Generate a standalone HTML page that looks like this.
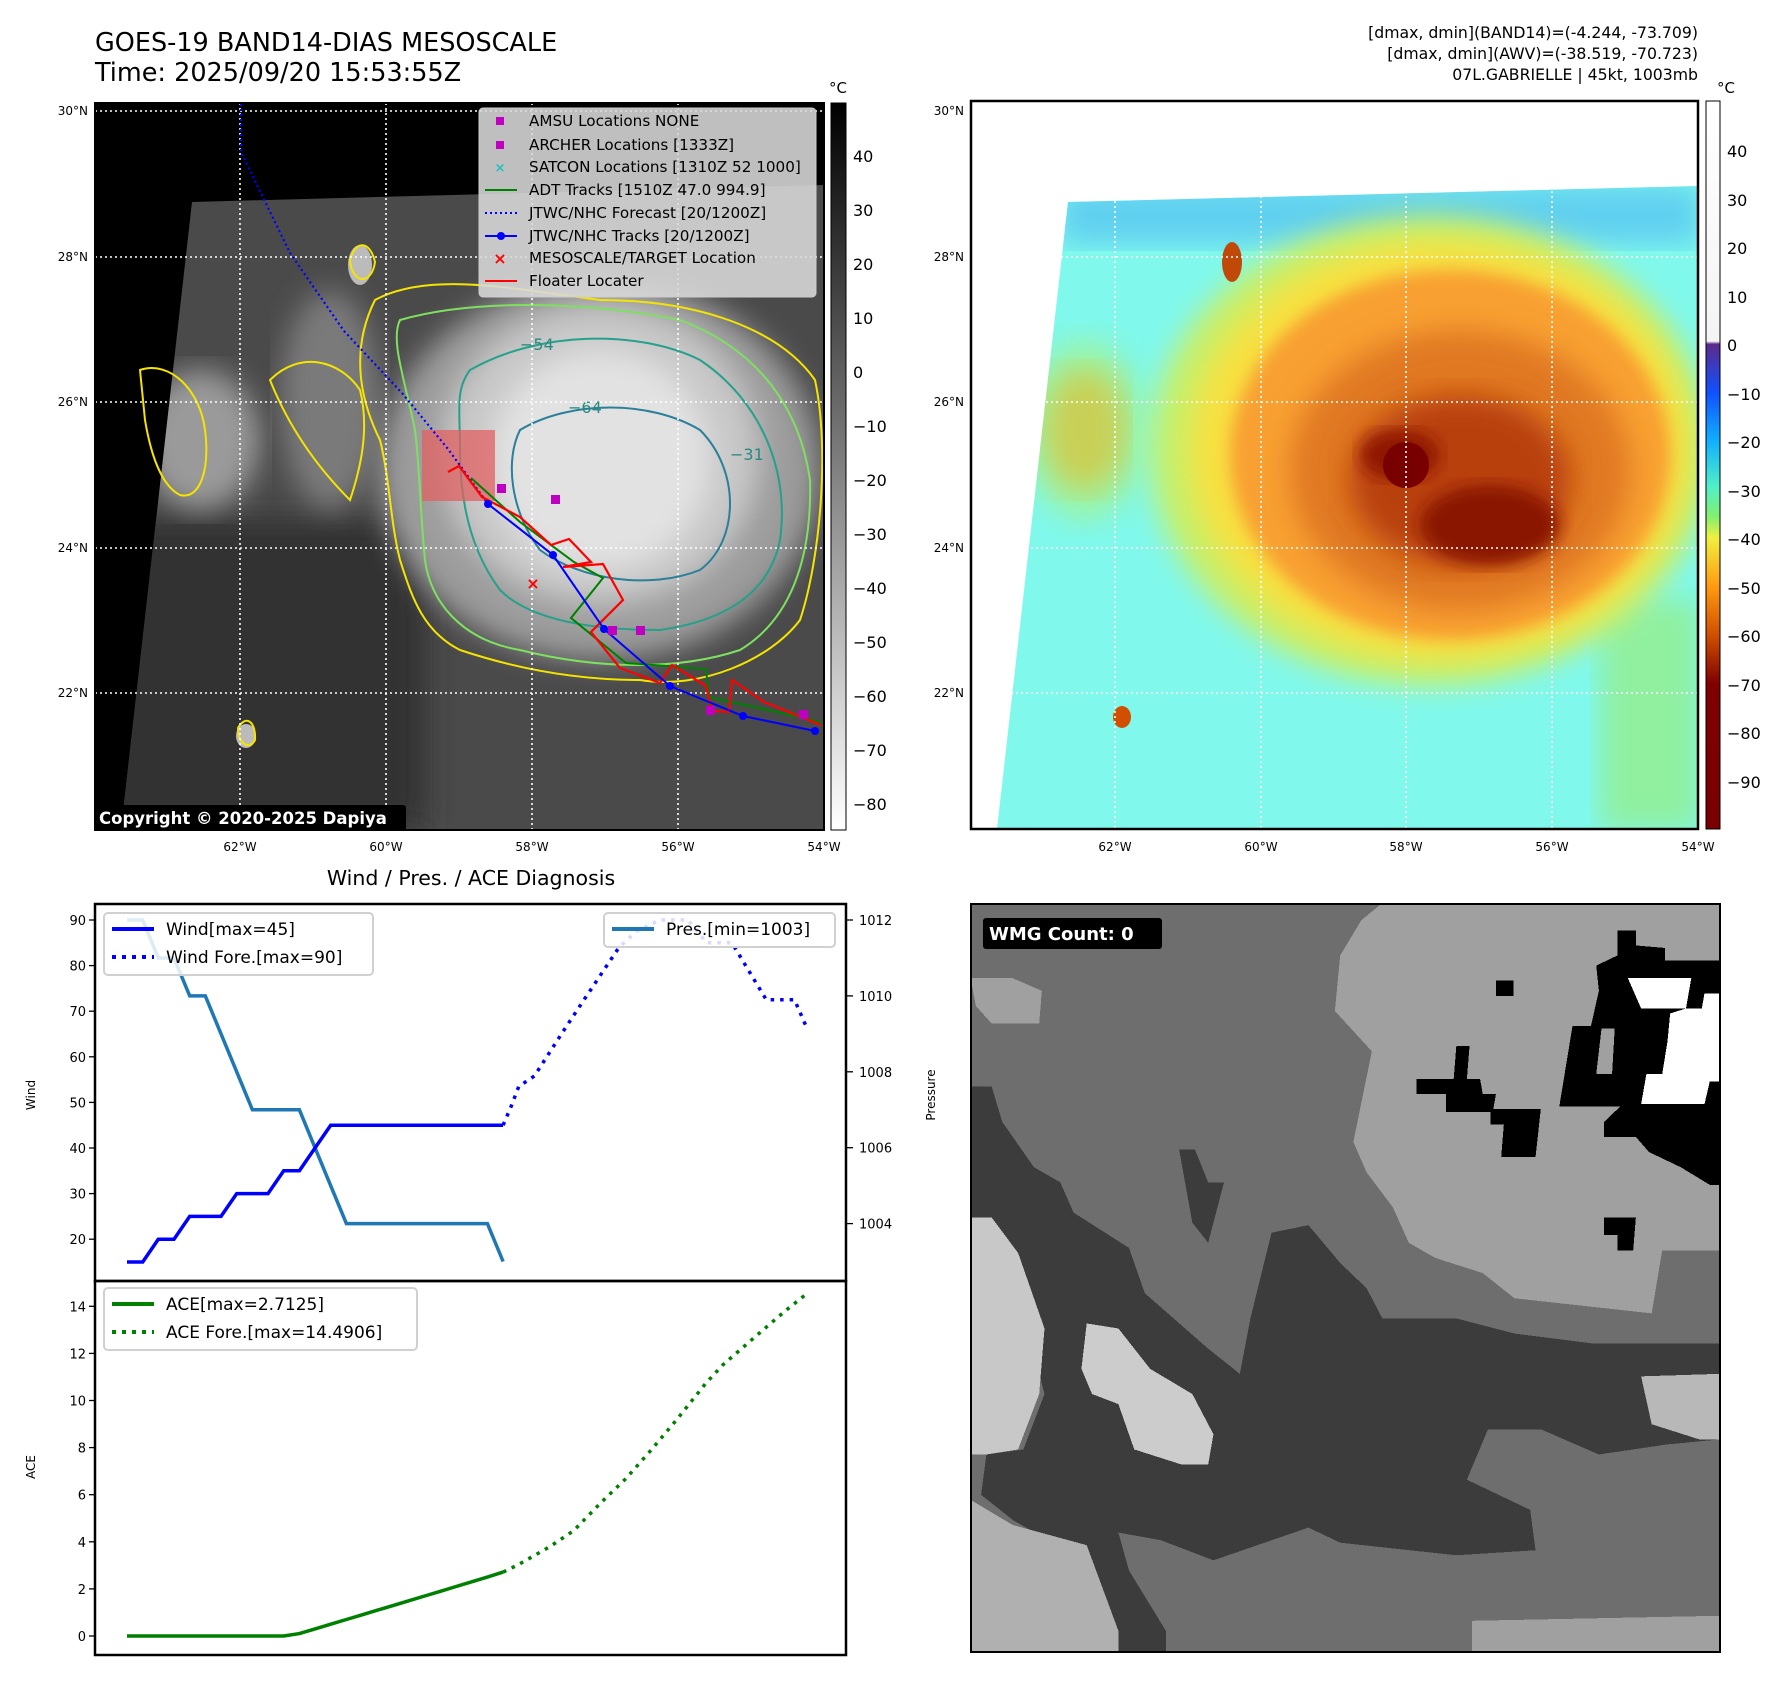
<!DOCTYPE html>
<html><head><meta charset="utf-8">
<style>
html,body{margin:0;padding:0;background:#fff;}
body{width:1788px;height:1690px;position:relative;overflow:hidden;font-family:"DejaVu Sans","Liberation Sans",sans-serif;}
svg text{font-family:"DejaVu Sans","Liberation Sans",sans-serif;}
</style></head>
<body>
<svg id="root" width="1788" height="1690" viewBox="0 0 1788 1690" xmlns="http://www.w3.org/2000/svg">
<defs>
  <linearGradient id="grayBar" x1="0" y1="0" x2="0" y2="1"><stop offset="0" stop-color="#000"/><stop offset="1" stop-color="#fff"/></linearGradient>
  <linearGradient id="colBar" x1="0" y1="0" x2="0" y2="1">
    <stop offset="0" stop-color="#fff"/><stop offset="0.33" stop-color="#f4f4f4"/>
    <stop offset="0.334" stop-color="#5c2a8c"/><stop offset="0.40" stop-color="#1050ff"/>
    <stop offset="0.467" stop-color="#10b0ff"/><stop offset="0.53" stop-color="#50f0c8"/>
    <stop offset="0.57" stop-color="#80f070"/><stop offset="0.60" stop-color="#f0f040"/>
    <stop offset="0.667" stop-color="#ff9a10"/><stop offset="0.733" stop-color="#d05000"/>
    <stop offset="0.80" stop-color="#800000"/><stop offset="1" stop-color="#7a0000"/>
  </linearGradient>
  <clipPath id="clipL"><polygon points="192,202 824,185 824,830 121,830"/></clipPath>
  <clipPath id="clipR"><polygon points="1068,202 1698,186 1698,829 997,829"/></clipPath>
  <clipPath id="clipBR"><rect x="971" y="904" width="749" height="748"/></clipPath>
  <filter id="blur8"><feGaussianBlur stdDeviation="8"/></filter>
  <filter id="blur14"><feGaussianBlur stdDeviation="14"/></filter>
  <filter id="blur4"><feGaussianBlur stdDeviation="3"/></filter>
</defs>

<text x="95" y="51" font-size="25.5">GOES-19 BAND14-DIAS MESOSCALE</text>
<text x="95" y="81" font-size="25.5">Time: 2025/09/20 15:53:55Z</text>
<g font-size="15.7" text-anchor="end">
  <text x="1698" y="38">[dmax, dmin](BAND14)=(-4.244, -73.709)</text>
  <text x="1698" y="59">[dmax, dmin](AWV)=(-38.519, -70.723)</text>
  <text x="1698" y="80">07L.GABRIELLE | 45kt, 1003mb</text>
</g>

<!-- LEFT MAP -->
<g>
  <rect x="95" y="103" width="729" height="727" fill="#000"/>
  <g clip-path="url(#clipL)">
    <rect x="95" y="180" width="729" height="650" fill="#4a4a4a"/>
    <rect x="95" y="520" width="330" height="310" fill="#333" filter="url(#blur14)"/>
    <ellipse cx="200" cy="440" rx="60" ry="70" fill="#9a9a9a" filter="url(#blur14)"/>
    <ellipse cx="330" cy="400" rx="50" ry="110" fill="#7a7a7a" filter="url(#blur14)"/>
    <ellipse cx="600" cy="470" rx="220" ry="190" fill="#9c9c9c" filter="url(#blur14)"/>
    <ellipse cx="600" cy="455" rx="160" ry="150" fill="#c8c8c8" filter="url(#blur14)"/>
    <ellipse cx="600" cy="460" rx="110" ry="110" fill="#e2e2e2" filter="url(#blur14)"/>
    <ellipse cx="360" cy="265" rx="12" ry="20" fill="#bbb"/>
    <ellipse cx="246" cy="736" rx="10" ry="12" fill="#bbb"/>
  </g>
  <g fill="none" stroke-width="2">
    <path d="M375,300 C430,270 520,290 600,300 C700,300 780,330 815,380 C830,450 820,560 800,620 C770,660 700,690 640,680 C580,680 520,670 460,650 C420,630 410,590 400,560 C390,520 390,480 380,440 C360,400 350,350 375,300 Z" stroke="#f5e400"/>
    <path d="M400,320 C470,300 580,300 680,320 C760,350 800,410 810,480 C812,560 790,620 740,650 C680,670 600,670 520,650 C460,640 430,600 425,560 C420,510 420,470 415,430 C405,380 390,340 400,320 Z" stroke="#7fe060"/>
    <path d="M470,370 C540,330 640,330 700,360 C760,400 790,470 780,540 C770,590 730,620 660,630 C590,630 530,620 500,590 C470,550 460,500 460,450 C460,410 455,390 470,370 Z" stroke="#26a08a"/>
    <path d="M520,430 C570,400 650,400 700,430 C740,470 740,540 700,570 C650,590 580,580 540,550 C510,510 505,460 520,430 Z" stroke="#2a7f99"/>
    <path d="M140,370 C170,360 200,390 205,430 C210,470 200,500 180,495 C160,485 150,450 145,420 Z" stroke="#f5e400"/>
    <path d="M270,380 C300,350 340,360 360,390 C370,430 360,470 350,500 C320,470 290,430 270,380 Z" stroke="#f5e400"/>
    <path d="M350,260 C355,240 370,240 375,262 C372,285 352,285 350,260 Z" stroke="#f5e400"/>
    <path d="M238,728 C245,715 256,720 255,740 C250,750 238,745 238,728 Z" stroke="#f5e400"/>
  </g>
  <g font-size="16" fill="#2a8a80">
    <text x="520" y="350">−54</text><text x="568" y="413">−64</text><text x="730" y="460">−31</text>
  </g>
  <g stroke="#fff" stroke-width="1.6" stroke-dasharray="2,3">
    <line x1="95" y1="111" x2="824" y2="111"/><line x1="95" y1="257" x2="824" y2="257"/><line x1="95" y1="402" x2="824" y2="402"/><line x1="95" y1="548" x2="824" y2="548"/><line x1="95" y1="693" x2="824" y2="693"/>
    <line x1="240" y1="103" x2="240" y2="830"/><line x1="386" y1="103" x2="386" y2="830"/><line x1="532" y1="103" x2="532" y2="830"/><line x1="678" y1="103" x2="678" y2="830"/>
  </g>
  <rect x="422" y="430" width="73" height="71" fill="#e06060" opacity="0.75"/>
  <polyline points="241,104 241,152 290,253 344,331 402,393 448,449 488,504" fill="none" stroke="#0000ff" stroke-width="2.2" stroke-dasharray="2,3"/>
  <polyline points="471,478 520,522 574,562 603,578 571,618 626,663 706,669 709,697 821,722" fill="none" stroke="#008000" stroke-width="2"/>
  <polyline points="448,472 459,466 482,497 520,517 551,545 569,539 591,562 563,567 603,564 623,600 591,632 620,668 660,683 672,665 706,686 712,711 729,712 732,680 764,702 821,725" fill="none" stroke="#ff0000" stroke-width="2.2"/>
  <polyline points="488,504 553,555 604,629 670,686 743,716 815,731" fill="none" stroke="#0000ff" stroke-width="2"/>
  <g fill="#0000ff">
    <circle cx="488" cy="504" r="4"/><circle cx="553" cy="555" r="4"/><circle cx="604" cy="629" r="4"/><circle cx="670" cy="686" r="4"/><circle cx="743" cy="716" r="4"/><circle cx="815" cy="731" r="4"/>
  </g>
  <g fill="#c000c0">
    <rect x="497" y="484" width="9" height="9"/><rect x="551" y="495" width="9" height="9"/><rect x="608" y="626" width="9" height="9"/><rect x="636" y="626" width="9" height="9"/><rect x="706" y="706" width="9" height="9"/><rect x="799" y="710" width="9" height="9"/>
  </g>
  <text x="533" y="589" font-size="16" fill="#f00" text-anchor="middle" font-weight="bold">×</text>
  <g>
    <rect x="479" y="108" width="337" height="189" rx="4" fill="#d9d9d9" fill-opacity="0.88" stroke="#ccc"/>
    <g font-size="15.2">
      <rect x="496" y="117" width="8" height="8" fill="#c000c0"/><text x="529" y="126">AMSU Locations NONE</text>
      <rect x="496" y="141" width="8" height="8" fill="#c000c0"/><text x="529" y="150">ARCHER Locations [1333Z]</text>
      <text x="500" y="172" fill="#20c0c0" text-anchor="middle" font-size="13" font-weight="bold">×</text><text x="529" y="172">SATCON Locations [1310Z 52 1000]</text>
      <line x1="485" y1="190" x2="517" y2="190" stroke="#008000" stroke-width="2"/><text x="529" y="195">ADT Tracks [1510Z 47.0 994.9]</text>
      <line x1="485" y1="213" x2="517" y2="213" stroke="#0000ff" stroke-width="2" stroke-dasharray="2,3"/><text x="529" y="218">JTWC/NHC Forecast [20/1200Z]</text>
      <line x1="485" y1="236" x2="517" y2="236" stroke="#0000ff" stroke-width="2"/><circle cx="501" cy="236" r="4" fill="#0000ff"/><text x="529" y="241">JTWC/NHC Tracks [20/1200Z]</text>
      <text x="500" y="264" fill="#f00" text-anchor="middle" font-size="16" font-weight="bold">×</text><text x="529" y="263">MESOSCALE/TARGET Location</text>
      <line x1="485" y1="281" x2="517" y2="281" stroke="#ff0000" stroke-width="2"/><text x="529" y="286">Floater Locater</text>
    </g>
  </g>
  <rect x="94" y="805" width="312" height="26" rx="3" fill="#000"/>
  <text x="99" y="824" font-size="16.5" font-weight="bold" fill="#fff">Copyright © 2020-2025 Dapiya</text>
  <rect x="95" y="103" width="729" height="727" fill="none" stroke="#000" stroke-width="2"/>
  <g font-size="12" text-anchor="end">
    <text x="88" y="115">30°N</text><text x="88" y="261">28°N</text><text x="88" y="406">26°N</text><text x="88" y="552">24°N</text><text x="88" y="697">22°N</text>
  </g>
  <g font-size="12" text-anchor="middle">
    <text x="240" y="851">62°W</text><text x="386" y="851">60°W</text><text x="532" y="851">58°W</text><text x="678" y="851">56°W</text><text x="824" y="851">54°W</text>
  </g>
  <g>
    <rect x="831" y="103" width="15" height="727" fill="url(#grayBar)" stroke="#000" stroke-width="1"/>
    <text x="838" y="93" font-size="15" text-anchor="middle">°C</text>
    <g font-size="16">
      <text x="853" y="162">40</text><text x="853" y="216">30</text><text x="853" y="270">20</text><text x="853" y="324">10</text><text x="853" y="378">0</text><text x="853" y="432">−10</text><text x="853" y="486">−20</text><text x="853" y="540">−30</text><text x="853" y="594">−40</text><text x="853" y="648">−50</text><text x="853" y="702">−60</text><text x="853" y="756">−70</text><text x="853" y="810">−80</text>
    </g>
  </g>
</g>

<!-- RIGHT MAP -->
<g>
  <rect x="971" y="101" width="727" height="728" fill="#fff"/>
  <g clip-path="url(#clipR)">
    <rect x="971" y="180" width="727" height="650" fill="#80f8ec"/>
    <rect x="1060" y="185" width="640" height="60" fill="#60d0f0" filter="url(#blur14)"/>
    <rect x="1600" y="600" width="100" height="230" fill="#90f0a0" filter="url(#blur14)"/>
    <ellipse cx="1085" cy="430" rx="40" ry="60" fill="#f0a030" filter="url(#blur14)"/>
    <ellipse cx="1085" cy="430" rx="60" ry="90" fill="#b0f070" opacity="0.6" filter="url(#blur14)"/>
    <ellipse cx="1430" cy="450" rx="280" ry="235" fill="#c8f068" filter="url(#blur14)"/>
    <ellipse cx="1440" cy="450" rx="250" ry="210" fill="#f8e040" filter="url(#blur14)"/>
    <ellipse cx="1450" cy="455" rx="220" ry="185" fill="#f8a030" filter="url(#blur8)"/>
    <ellipse cx="1460" cy="470" rx="170" ry="140" fill="#e07820" filter="url(#blur14)"/>
    <ellipse cx="1460" cy="480" rx="110" ry="85" fill="#b84008" filter="url(#blur14)"/>
    <ellipse cx="1490" cy="525" rx="70" ry="40" fill="#8a1800" filter="url(#blur8)"/>
    <ellipse cx="1400" cy="455" rx="40" ry="25" fill="#901800" filter="url(#blur8)"/>
    <circle cx="1406" cy="465" r="23" fill="#780000"/>
    <ellipse cx="1232" cy="262" rx="10" ry="20" fill="#c04808"/>
    <ellipse cx="1122" cy="717" rx="9" ry="11" fill="#d05000"/>
  </g>
  <g stroke="#fff" stroke-width="1.6" stroke-dasharray="2,3">
    <line x1="971" y1="111" x2="1698" y2="111"/><line x1="971" y1="257" x2="1698" y2="257"/><line x1="971" y1="402" x2="1698" y2="402"/><line x1="971" y1="548" x2="1698" y2="548"/><line x1="971" y1="693" x2="1698" y2="693"/>
    <line x1="1115" y1="101" x2="1115" y2="829"/><line x1="1261" y1="101" x2="1261" y2="829"/><line x1="1406" y1="101" x2="1406" y2="829"/><line x1="1552" y1="101" x2="1552" y2="829"/>
  </g>
  <rect x="971" y="101" width="727" height="728" fill="none" stroke="#000" stroke-width="2.5"/>
  <g font-size="12" text-anchor="end">
    <text x="964" y="115">30°N</text><text x="964" y="261">28°N</text><text x="964" y="406">26°N</text><text x="964" y="552">24°N</text><text x="964" y="697">22°N</text>
  </g>
  <g font-size="12" text-anchor="middle">
    <text x="1115" y="851">62°W</text><text x="1261" y="851">60°W</text><text x="1406" y="851">58°W</text><text x="1552" y="851">56°W</text><text x="1698" y="851">54°W</text>
  </g>
  <g>
    <rect x="1706" y="101" width="14" height="728" fill="url(#colBar)" stroke="#000" stroke-width="1"/>
    <text x="1726" y="93" font-size="15" text-anchor="middle">°C</text>
    <g font-size="16">
      <text x="1727" y="157">40</text><text x="1727" y="206">30</text><text x="1727" y="254">20</text><text x="1727" y="303">10</text><text x="1727" y="351">0</text><text x="1727" y="400">−10</text><text x="1727" y="448">−20</text><text x="1727" y="497">−30</text><text x="1727" y="545">−40</text><text x="1727" y="594">−50</text><text x="1727" y="642">−60</text><text x="1727" y="691">−70</text><text x="1727" y="739">−80</text><text x="1727" y="788">−90</text>
    </g>
  </g>
</g>

<!-- BOTTOM RIGHT WMG -->
<g>
  <g clip-path="url(#clipBR)">
  <g transform="translate(960,890) scale(0.528,0.504)" shape-rendering="crispEdges">
    <rect x="20" y="27" width="1420" height="1486" fill="#6e6e6e"/>
    <polygon fill="#a0a0a0" points="795,30 1440,30 1440,715 1330,715 1310,840 1050,810 990,760 900,730 850,700 820,630 770,560 745,500 780,320 710,240 720,130 760,60"/>
    <polygon fill="#a0a0a0" points="20,175 100,175 155,200 150,265 60,265 30,230"/>
    <polygon fill="#3c3c3c" points="20,390 60,390 80,460 140,550 190,580 215,640 320,710 350,800 470,910 530,960 550,850 590,680 660,665 720,740 770,790 800,850 940,850 1050,880 1200,900 1440,900 1440,1090 1340,1100 1210,1120 1100,1070 1000,1070 960,1170 1080,1230 1090,1310 940,1320 720,1295 660,1265 480,1330 380,1290 300,1275 320,1350 390,1470 390,1513 290,1513 260,1380 200,1310 100,1250 40,1200 50,1120 120,1110 160,1000 140,920 90,830 20,650"/>
    <polygon fill="#3c3c3c" points="415,515 445,515 470,580 500,580 470,700 440,660"/>
    <polygon fill="#c8c8c8" points="20,650 60,650 110,720 160,870 150,1000 110,1110 50,1120 20,1120"/>
    <polygon fill="#cccccc" points="240,860 300,870 360,950 440,1000 480,1080 470,1140 420,1140 330,1110 300,1020 250,1000 230,950"/>
    <polygon fill="#b0b0b0" points="20,1210 100,1260 240,1300 300,1470 300,1513 20,1513"/>
    <polygon fill="#000" points="1245,80 1280,80 1280,110 1335,115 1335,140 1440,140 1440,585 1420,585 1365,550 1305,520 1280,490 1220,490 1220,460 1250,430 1135,430 1160,270 1195,270 1210,200 1205,150 1245,130"/>
    <polygon fill="#fff" points="1265,175 1385,175 1375,235 1345,245 1340,300 1330,365 1300,365 1290,425 1410,425 1420,380 1440,380 1440,205 1410,205 1405,235 1290,235"/>
    <polygon fill="#a0a0a0" points="1215,275 1240,275 1235,365 1205,365"/>
    <polygon fill="#000" points="865,375 935,375 940,310 965,310 960,375 985,375 990,405 1015,405 1010,435 1100,435 1090,530 1025,530 1030,465 1005,465 1005,440 920,440 920,405 865,405"/>
    <rect x="1015" y="180" width="33" height="30" fill="#000"/>
    <polygon fill="#000" points="1220,650 1280,650 1275,715 1245,715 1245,685 1220,685"/>
    <polygon fill="#a0a0a0" points="970,1450 1440,1440 1440,1513 970,1513"/>
    <polygon fill="#b8b8b8" points="1290,965 1440,960 1440,1090 1400,1090 1310,1060"/>
  </g>
  </g>
  <rect x="971" y="904" width="749" height="748" fill="none" stroke="#000" stroke-width="2"/>
  <rect x="983" y="918" width="179" height="31" rx="3" fill="#000"/>
  <text x="989" y="940" font-size="18" font-weight="bold" fill="#fff">WMG Count: 0</text>
</g>

<text x="471" y="885" font-size="20.5" text-anchor="middle">Wind / Pres. / ACE Diagnosis</text>
<g id="chart"></g>
</svg>

<script>
// ---- data ----
var obsIdx   = [0,1,2,3,4,5,6,7,8,9,10,11,12,13,14,15,16,17,18,19,20,21,22,23,24];
var windObs  = [15,15,20,20,25,25,25,30,30,30,35,35,40,45,45,45,45,45,45,45,45,45,45,45,45];
var presObs  = [1012,1012,1011,1011,1010,1010,1009,1008,1007,1007,1007,1007,1006,1005,1004,1004,1004,1004,1004,1004,1004,1004,1004,1004,1003];
var aceObs   = [0,0,0,0,0,0,0,0,0,0,0,0.1,0.3,0.5,0.7,0.9,1.1,1.3,1.5,1.7,1.9,2.1,2.3,2.5,2.7125];
var foreIdx  = [24,24.5,25,26,27.8,29.2,31.4,32.5,34,35.8,37,38.6,40.8,42.6,43.3];
var windFore = [45,49,53.5,55.8,65.4,72.7,84,87.5,90,90,85,85,72.5,72.5,67];
var aceFIdx  = [24,25,27,28.5,30.3,31.8,33.4,35.1,36.9,38,39.3,40.6,42,43.3];
var aceFore  = [2.7125,3.04,3.8,4.47,5.7,6.66,7.86,9.2,10.7,11.5,12.25,13.0,13.8,14.4906];
var windTicks = [20,30,40,50,60,70,80,90];
var presTicks = [1004,1006,1008,1010,1012];
var aceTicks  = [0,2,4,6,8,10,12,14];

// ---- scales ----
var L=95,R=846,T1=904,B1=1281,T2=1281,B2=1655;
function xS(i){return 127+i*15.67;}
function yW(v){return 920+(90-v)*4.56;}
function yP(p){return 920+(1012-p)*37.95;}
function yA(v){return 1636-v*23.55;}
var NS='http://www.w3.org/2000/svg';
var g=document.getElementById('chart');
function mk(tag,attrs,parent){var e=document.createElementNS(NS,tag);for(var k in attrs)e.setAttribute(k,attrs[k]);(parent||g).appendChild(e);return e;}
function pts(xs,ys,fy){var s=[];for(var i=0;i<xs.length;i++)s.push(xS(xs[i]).toFixed(1)+','+fy(ys[i]).toFixed(1));return s.join(' ');}

var pl;
pl=mk('polyline',{points:pts(obsIdx,presObs,yP),fill:'none',stroke:'#1f77b4','stroke-width':3.5});


pl=mk('polyline',{points:pts(obsIdx,windObs,yW),fill:'none',stroke:'#0000ff','stroke-width':3.5});


pl=mk('polyline',{points:pts(foreIdx,windFore,yW),fill:'none',stroke:'#0000ff','stroke-width':3.5,'stroke-dasharray':'3.5,6'});


pl=mk('polyline',{points:pts(obsIdx,aceObs,yA),fill:'none',stroke:'#008000','stroke-width':3.5});


pl=mk('polyline',{points:pts(aceFIdx,aceFore,yA),fill:'none',stroke:'#008000','stroke-width':3.5,'stroke-dasharray':'3.5,6'});



var fr=mk('rect',{x:L,y:T1,width:R-L,height:B1-T1,fill:'none',stroke:'#000','stroke-width':2.5});


fr=mk('rect',{x:L,y:T2,width:R-L,height:B2-T2,fill:'none',stroke:'#000','stroke-width':2.5});



var t;
windTicks.forEach(function(v){
  mk('line',{x1:L-6,x2:L,y1:yW(v),y2:yW(v),stroke:'#000','stroke-width':1.3});
  t=mk('text',{x:L-9,y:yW(v)+5,'font-size':13,'text-anchor':'end'});t.textContent=v;
  
  
});
presTicks.forEach(function(v){
  mk('line',{x1:R,x2:R+7,y1:yP(v),y2:yP(v),stroke:'#000','stroke-width':1.3});
  t=mk('text',{x:R+13,y:yP(v)+5,'font-size':13});t.textContent=v;
  
  
});
aceTicks.forEach(function(v){
  mk('line',{x1:L-6,x2:L,y1:yA(v),y2:yA(v),stroke:'#000','stroke-width':1.3});
  t=mk('text',{x:L-9,y:yA(v)+5,'font-size':13,'text-anchor':'end'});t.textContent=v;
  
  
});
t=mk('text',{x:0,y:0,'font-size':12,'text-anchor':'middle',transform:'translate(35,1095) rotate(-90)'});t.textContent='Wind';


t=mk('text',{x:0,y:0,'font-size':12,'text-anchor':'middle',transform:'translate(935,1095) rotate(-90)'});t.textContent='Pressure';


t=mk('text',{x:0,y:0,'font-size':12,'text-anchor':'middle',transform:'translate(35,1467) rotate(-90)'});t.textContent='ACE';



function legend(x,y,w,h,items,name){
  var lg=mk('g',{});
  
  
  mk('rect',{x:x,y:y,width:w,height:h,rx:4,fill:'#fff','fill-opacity':0.85,stroke:'#d0d0d0','stroke-width':2},lg);
  items.forEach(function(it,i){
    var cy=y+16+i*28;
    var a={x1:x+8,x2:x+50,y1:cy,y2:cy,stroke:it[1],'stroke-width':4};
    if(it[2])a['stroke-dasharray']='4,6';
    mk('line',a,lg);
    var tx=mk('text',{x:x+62,y:cy+6,'font-size':17},lg);tx.textContent=it[0];
  });
}
legend(104,913,269,62,[['Wind[max=45]','#0000ff',0],['Wind Fore.[max=90]','#0000ff',1]],'wind-legend');
legend(604,913,231,34,[['Pres.[min=1003]','#1f77b4',0]],'pressure-legend');
legend(104,1288,313,62,[['ACE[max=2.7125]','#008000',0],['ACE Fore.[max=14.4906]','#008000',1]],'ace-legend');
</script>
</body></html>
